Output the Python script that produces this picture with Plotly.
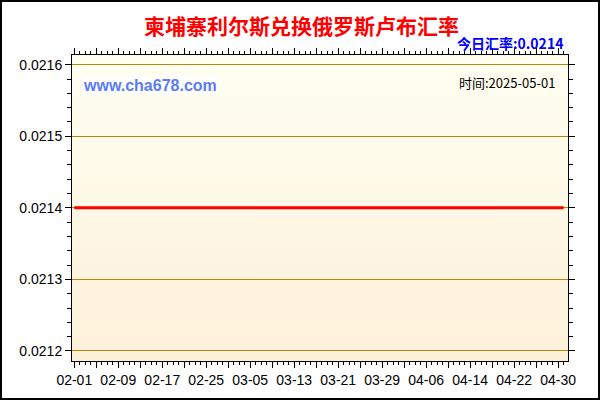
import base64
import pandas as pd
import plotly.graph_objects as go

# ---- data ----
start_date = "2025-02-01"
end_date = "2025-05-01"
dates = pd.date_range(start_date, end_date, freq="D")
rates = [
    0.0214, 0.0214, 0.0214, 0.0214, 0.0214, 0.0214, 0.0214, 0.0214, 0.0214, 0.0214,
    0.0214, 0.0214, 0.0214, 0.0214, 0.0214, 0.0214, 0.0214, 0.0214, 0.0214, 0.0214,
    0.0214, 0.0214, 0.0214, 0.0214, 0.0214, 0.0214, 0.0214, 0.0214, 0.0214, 0.0214,
    0.0214, 0.0214, 0.0214, 0.0214, 0.0214, 0.0214, 0.0214, 0.0214, 0.0214, 0.0214,
    0.0214, 0.0214, 0.0214, 0.0214, 0.0214, 0.0214, 0.0214, 0.0214, 0.0214, 0.0214,
    0.0214, 0.0214, 0.0214, 0.0214, 0.0214, 0.0214, 0.0214, 0.0214, 0.0214, 0.0214,
    0.0214, 0.0214, 0.0214, 0.0214, 0.0214, 0.0214, 0.0214, 0.0214, 0.0214, 0.0214,
    0.0214, 0.0214, 0.0214, 0.0214, 0.0214, 0.0214, 0.0214, 0.0214, 0.0214, 0.0214,
    0.0214, 0.0214, 0.0214, 0.0214, 0.0214, 0.0214, 0.0214, 0.0214, 0.0214, 0.0214,
]
y_ticks = [0.0212, 0.0213, 0.0214, 0.0215, 0.0216]
x_tick_dates = pd.date_range("2025-02-01", "2025-04-30", freq="4D")
x_tick_text = [d.strftime("%m-%d") if i % 2 == 0 else "" for i, d in enumerate(x_tick_dates)]

title_text = "柬埔寨利尔斯兑换俄罗斯卢布汇率"
today_text = "今日汇率:0.0214"
site_text = "www.cha678.com"
time_text = "时间:2025-05-01"

# ---- figure ----
fig = go.Figure()
fig.add_trace(go.Scatter(
    x=dates, y=rates, mode="lines",
    line=dict(color="#ff0000", width=3),
    hoverinfo="skip", showlegend=False,
))

svg = (
    '<svg xmlns="http://www.w3.org/2000/svg" width="100" height="100" preserveAspectRatio="none">'
    '<defs><linearGradient id="g" x1="0" y1="0" x2="0" y2="1">'
    '<stop offset="0" stop-color="#fffff2"/><stop offset="1" stop-color="#fdf0d9"/>'
    '</linearGradient></defs><rect width="100" height="100" fill="url(#g)"/></svg>'
)
bg_uri = "data:image/svg+xml;base64," + base64.b64encode(svg.encode()).decode()

L, R, T, B = 72, 32, 55, 39
W, H = 600, 400
pw, ph = W - L - R, H - T - B

def px_x(p):
    return (p - L) / pw

def px_y(p):
    return (H - p - B) / ph

fig.update_layout(
    width=W, height=H,
    margin=dict(l=L, r=R, t=T, b=B),
    paper_bgcolor="white",
    plot_bgcolor="rgba(0,0,0,0)",
    font=dict(family="Liberation Sans, Arial, sans-serif", color="#000000"),
    images=[dict(source=bg_uri, xref="paper", yref="paper", x=0, y=1,
                 sizex=1, sizey=1, sizing="stretch", layer="below",
                 xanchor="left", yanchor="top")],
    shapes=[dict(type="rect", xref="paper", yref="paper",
                 x0=px_x(1), x1=px_x(599), y0=px_y(399), y1=px_y(1),
                 line=dict(color="black", width=2), fillcolor="rgba(0,0,0,0)")],
    annotations=[
        dict(text="<b>" + title_text + "</b>", xref="paper", yref="paper", x=px_x(301), y=px_y(25),
             xanchor="center", yanchor="middle", showarrow=False,
             font=dict(size=21, color="#ff0000", family="Noto Sans CJK SC"),),
        dict(text="<b>" + today_text + "</b>", xref="paper", yref="paper", x=px_x(565), y=px_y(43),
             xanchor="right", yanchor="middle", showarrow=False,
             font=dict(size=14, color="#0000ff", family="Noto Sans CJK SC")),
        dict(text="<b>" + site_text + "</b>", xref="paper", yref="paper", x=px_x(82), y=px_y(85),
             xanchor="left", yanchor="middle", showarrow=False, bgcolor="white", borderpad=0,
             font=dict(size=16, color="#5b7cf3", family="Liberation Sans, Arial")),
        dict(text=time_text, xref="paper", yref="paper", x=px_x(557), y=px_y(82),
             xanchor="right", yanchor="middle", showarrow=False,
             font=dict(size=13, color="#000000", family="Noto Sans CJK SC")),
    ],
)

fig.update_xaxes(
    type="date",
    range=[pd.Timestamp("2025-02-01") - pd.Timedelta(hours=10),
           pd.Timestamp("2025-05-01") + pd.Timedelta(hours=19)],
    tickmode="array", tickvals=list(x_tick_dates), ticktext=x_tick_text,
    ticks="outside", ticklen=6, tickcolor="black", tickwidth=1,
    minor=dict(dtick=86400000, tick0="2025-02-01", ticks="outside", ticklen=3,
               tickcolor="black", showgrid=False),
    showgrid=False, zeroline=False,
    showline=True, linecolor="black", linewidth=1, mirror="ticks",
    tickfont=dict(size=14, color="#000000"),
)
fig.update_yaxes(
    range=[0.021186, 0.0216136],
    tickmode="array", tickvals=y_ticks, tickformat=".4f",
    ticks="outside", ticklen=6, tickcolor="black", tickwidth=1,
    minor=dict(dtick=0.00002, tick0=0.0212, ticks="outside", ticklen=4,
               tickcolor="black", showgrid=False),
    showgrid=True, gridcolor="#b8860b", gridwidth=1, zeroline=False,
    showline=True, linecolor="black", linewidth=1, mirror="ticks",
    tickfont=dict(size=14, color="#000000"),
)

fig.write_html("out.html", config={"displayModeBar": False},
               post_script="document.body.style.margin='0';document.body.style.overflow='hidden';")
